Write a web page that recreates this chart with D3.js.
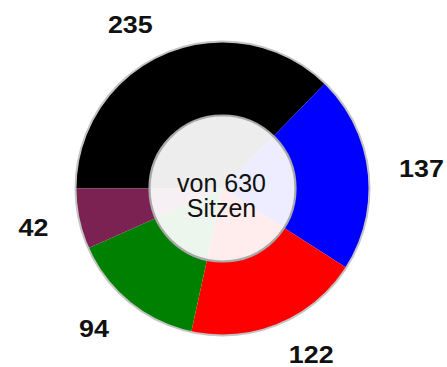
<!DOCTYPE html>
<html>
<head>
<meta charset="utf-8">
<script src="https://cdn.jsdelivr.net/npm/d3@7"></script>
<style>
  html, body { margin: 0; padding: 0; background: #fff; }
  svg { display: block; }
</style>
</head>
<body>
<div id="chart"></div>
<script>
// Sitzverteilung (630 Sitze)
const parties = ["CDU/CSU", "SPD", "Linke", "Grüne", "FDP"];
const seats = [235, 137, 122, 94, 42];
const partyColors = ["#000000", "#0000ff", "#ff0000", "#008000", "#7b2252"];
const centerLines = ["von 630", "Sitzen"];

const width = 447, height = 367;
const cx = 222.5, cy = 188.5;
const outerR = 147, innerR = 73;

// label placement: distance from centre and angular nudge (degrees) per slice
const labelRadius = [188, 200, 188, 190, 193];
const labelNudge = [-6.5, 0.9, -5.6, 3.4, 0.3];

const svg = d3.select("#chart").append("svg")
  .attr("width", width).attr("height", height);

const g = svg.append("g").attr("transform", `translate(${cx},${cy})`);

const pie = d3.pie()
  .sort(null)
  .value(d => d)
  .startAngle(-Math.PI / 2)
  .endAngle(Math.PI * 1.5);

const arcs = pie(seats);
const arc = d3.arc().innerRadius(0).outerRadius(outerR);

g.selectAll("path.slice")
  .data(arcs)
  .join("path")
  .attr("class", "slice")
  .attr("d", arc)
  .attr("fill", (d, i) => partyColors[i]);

// outer rim
g.append("circle")
  .attr("r", outerR)
  .attr("fill", "none")
  .attr("stroke", "#c4c4c4")
  .attr("stroke-width", 2);

// translucent centre disc
g.append("circle")
  .attr("r", innerR)
  .attr("fill", "#ffffff")
  .attr("fill-opacity", 0.93)
  .attr("stroke", "#a9a9a9")
  .attr("stroke-width", 2.2);

// centre text
g.append("text")
  .attr("text-anchor", "middle")
  .attr("font-family", "'Liberation Sans', Arial, sans-serif")
  .attr("font-size", 25)
  .attr("fill", "#111")
  .selectAll("tspan")
  .data(centerLines)
  .join("tspan")
  .attr("x", -1)
  .attr("y", (d, i) => 3.5 + i * 25)
  .text(d => d);

// value labels
const deg = Math.PI / 180;
g.selectAll("text.value")
  .data(arcs)
  .join("text")
  .attr("class", "value")
  .attr("transform", (d, i) => {
    const a = (d.startAngle + d.endAngle) / 2 + labelNudge[i] * deg;
    const x = Math.sin(a) * labelRadius[i];
    const y = -Math.cos(a) * labelRadius[i];
    return `translate(${x},${y}) scale(1.12,1)`;
  })
  .attr("text-anchor", "middle")
  .attr("dy", "0.35em")
  .attr("font-family", "'Liberation Sans', Arial, sans-serif")
  .attr("font-weight", "bold")
  .attr("font-size", 24)
  .attr("fill", "#111")
  .text(d => d.data);
</script>
</body>
</html>
